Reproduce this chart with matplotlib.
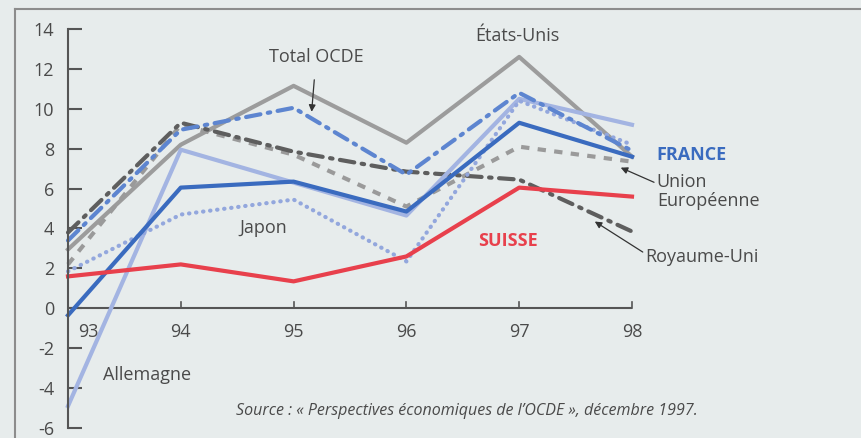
import matplotlib
matplotlib.use("Agg")
import matplotlib.pyplot as plt
from matplotlib.lines import Line2D

plt.rcParams['font.family'] = ['Open Sans', 'DejaVu Sans']

# data
years = [93, 94, 95, 96, 97, 98]
etats_unis = [2.95, 8.2, 11.15, 8.3, 12.6, 7.6]
total_ocde = [3.4, 8.95, 10.05, 6.7, 10.8, 7.9]
royaume_uni = [3.8, 9.3, 7.85, 6.85, 6.45, 3.85]
union_eur = [2.2, 9.2, 7.7, 5.1, 8.1, 7.35]
france = [-0.35, 6.05, 6.35, 4.85, 9.3, 7.6]
allemagne = [-4.9, 7.95, 6.3, 4.65, 10.5, 9.2]
japon = [1.85, 4.7, 5.45, 2.35, 10.4, 8.2]
suisse = [1.6, 2.2, 1.35, 2.6, 6.05, 5.6]
yticks = [14, 12, 10, 8, 6, 4, 2, 0, -2, -4, -6]

bg = '#e7ecec'
axis_col = '#555555'
txt_col = '#4a4a4a'

fig = plt.figure(figsize=(8.61, 4.38), dpi=100, facecolor=bg)
ax = fig.add_axes([68 / 861, 10 / 438, 564 / 861, 399 / 438])
ax.set_facecolor(bg)
ax.set_xlim(93, 98)
ax.set_ylim(-6, 14)

# outer frame (top and left borders)
fig.add_artist(Line2D([15 / 861, 1], [1 - 9 / 438, 1 - 9 / 438], transform=fig.transFigure,
                      color='#8c8c8c', lw=1.5))
fig.add_artist(Line2D([15 / 861, 15 / 861], [0, 1 - 9 / 438], transform=fig.transFigure,
                      color='#8c8c8c', lw=1.5))

lw = 3
dashdot = (0, (3.5, 1.8, 0.6, 1.8))
ax.plot(years, etats_unis, color='#9c9c9c', lw=lw, clip_on=False)
ax.plot(years, union_eur, color='#9a9a9a', lw=lw, ls=(0, (2, 2)), clip_on=False)
ax.plot(years, royaume_uni, color='#5e5e5e', lw=lw, ls=dashdot,
        dash_capstyle='round', clip_on=False)
ax.plot(years, allemagne, color='#a3b4e2', lw=lw, clip_on=False)
ax.plot(years, japon, color='#93a7dd', lw=lw, ls=(0, (0.1, 1.6)),
        dash_capstyle='round', clip_on=False)
ax.plot(years, total_ocde, color='#5d85d0', lw=lw, ls=dashdot,
        dash_capstyle='round', clip_on=False)
ax.plot(years, france, color='#3a6bbf', lw=lw, clip_on=False)
ax.plot(years, suisse, color='#e8404c', lw=lw, clip_on=False)

# axes styling
for s in ['top', 'right', 'bottom']:
    ax.spines[s].set_visible(False)
ax.spines['left'].set_color(axis_col)
ax.spines['left'].set_linewidth(1.5)
ax.axhline(0, xmin=0, xmax=1, color=axis_col, lw=1.5, zorder=1)
for yr in years[1:]:
    ax.plot([yr, yr], [0, 0.3], color=axis_col, lw=1.2, clip_on=False, zorder=1)

ax.set_yticks(yticks)
ax.set_yticklabels([str(t) for t in yticks])
ax.tick_params(axis='y', direction='in', length=10, width=1.5, color=axis_col,
               labelsize=13, labelcolor=txt_col, pad=10)
ax.set_xticks([])
for yr in years:
    xx = yr + (0.18 if yr == 93 else 0)
    ax.text(xx, -1.2, str(yr), ha='center', va='center', fontsize=13, color=txt_col)

# labels
ax.annotate('Total OCDE', xy=(95.16, 9.85), xytext=(95.2, 12.6), ha='center', va='center',
            fontsize=13, color=txt_col,
            arrowprops=dict(arrowstyle='-|>', color='#333333', lw=0.9, shrinkA=8, shrinkB=0,
                            mutation_scale=10))
ax.text(96.98, 13.65, 'États-Unis', ha='center', va='center', fontsize=13, color=txt_col)
ax.text(98.22, 7.7, 'FRANCE', ha='left', va='center', fontsize=13, color='#3a6bbf',
        fontweight='bold', clip_on=False)
ax.annotate('Union\nEuropéenne', xy=(97.9, 7.05), xytext=(98.22, 5.85), ha='left', va='center',
            fontsize=13, color=txt_col, linespacing=1.05, annotation_clip=False,
            arrowprops=dict(arrowstyle='-|>', color='#333333', lw=0.9, shrinkA=0, shrinkB=0,
                            mutation_scale=10, relpos=(0, 0.72)))
ax.annotate('Royaume-Uni', xy=(97.67, 4.35), xytext=(98.12, 2.55), ha='left', va='center',
            fontsize=13, color=txt_col, annotation_clip=False,
            arrowprops=dict(arrowstyle='-|>', color='#333333', lw=0.9, shrinkA=0, shrinkB=0,
                            mutation_scale=10, relpos=(0, 0.7)))
ax.text(96.9, 3.35, 'SUISSE', ha='center', va='center', fontsize=13, color='#e8404c',
        fontweight='bold')
ax.text(94.73, 4.05, 'Japon', ha='center', va='center', fontsize=13, color=txt_col)
ax.text(93.31, -3.35, 'Allemagne', ha='left', va='center', fontsize=13, color=txt_col)
ax.text(96.54, -5.15, 'Source : « Perspectives économiques de l’OCDE », décembre 1997.',
        ha='center', va='center', fontsize=11.5, style='italic', color=txt_col)

fig.savefig('out.png', dpi=100, facecolor=bg)
